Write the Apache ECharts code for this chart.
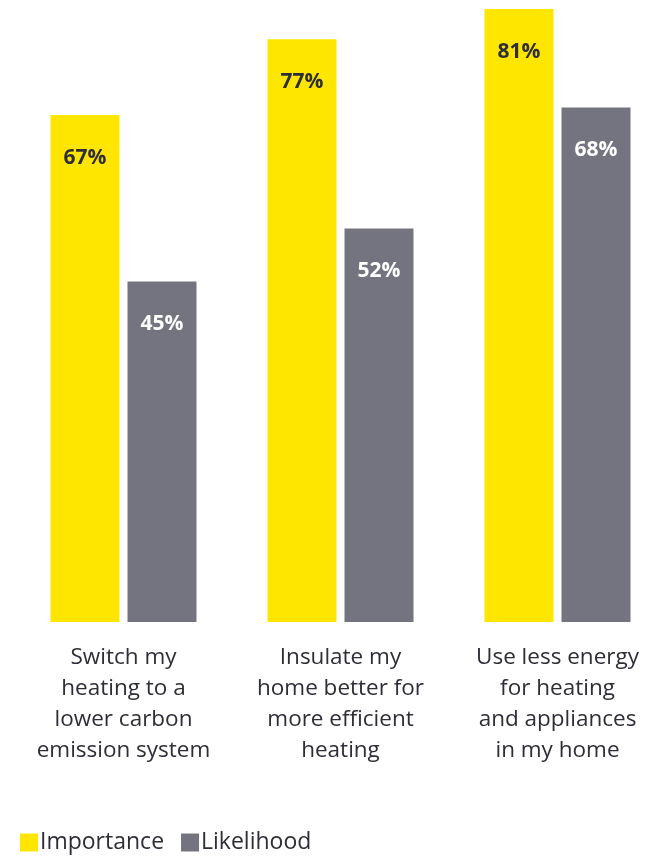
<!DOCTYPE html>
<html><head><meta charset="utf-8">
<script src="https://cdn.jsdelivr.net/npm/echarts@6/dist/echarts.min.js"></script>
<style>html,body{margin:0;padding:0;background:#fff}#c{width:645px;height:856px}</style>
</head><body><div id="c"></div>
<script>
const categories = ["Switch my\nheating to a\nlower carbon\nemission system", "Insulate my\nhome better for\nmore efficient\nheating", "Use less energy\nfor heating\nand appliances\nin my home"];
const seriesNames = ["Importance", "Likelihood"];
const importance = [67, 77, 81];
const likelihood = [45, 52, 68];

const chart = echarts.init(document.getElementById('c'), null, {renderer: 'canvas'});
const FONT = 'Open Sans';
chart.setOption({
  animation: false,
  textStyle: {fontFamily: FONT},
  grid: {left: 15, width: 651, top: 0, height: 622, containLabel: false, outerBoundsMode: 'none'},
  legend: {
    left: 15, top: 826, itemWidth: 18, itemHeight: 18, itemGap: 17,
    icon: 'rect',
    textStyle: {fontSize: 23, color: '#2E2E38', fontFamily: FONT, padding: [0,0,0,-3]},
    data: seriesNames
  },
  xAxis: {
    type: 'category', data: categories,
    axisLine: {show: false}, axisTick: {show: false},
    axisLabel: {color: '#2E2E38', fontSize: 22.5, lineHeight: 31, margin: 20, interval: 0, fontFamily: FONT}
  },
  yAxis: {type: 'value', min: 0, max: 82.2, show: false, splitLine: {show: false}},
  series: [
    {name: seriesNames[0], type: 'bar', data: importance, barWidth: 69, barGap: '11.6%',
     itemStyle: {color: '#FFE600'},
     label: {show: true, position: 'insideTop', distance: 32, formatter: '{c}%', color: '#2E2E38', fontWeight: 'bold', fontSize: 21, fontFamily: FONT}},
    {name: seriesNames[1], type: 'bar', data: likelihood, barWidth: 69,
     itemStyle: {color: '#747480'},
     label: {show: true, position: 'insideTop', distance: 32, formatter: '{c}%', color: '#FFFFFF', fontWeight: 'bold', fontSize: 21, fontFamily: FONT}}
  ]
});
</script></body></html>
